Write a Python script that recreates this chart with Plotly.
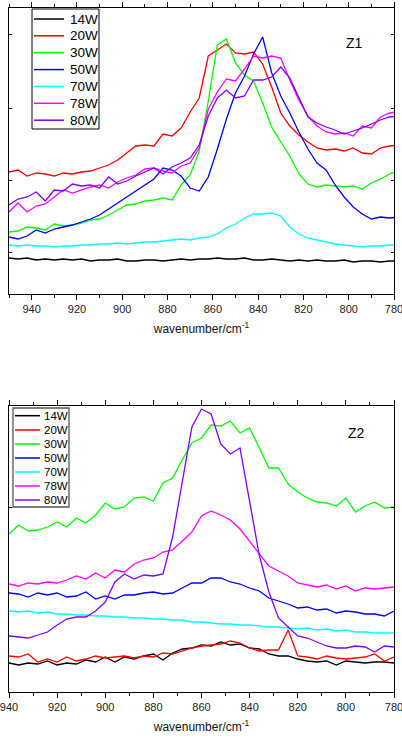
import plotly.graph_objects as go

# ---------------- data ----------------
LABELS = ["14W", "20W", "30W", "50W", "70W", "78W", "80W"]
COLORS = ["#000000", "#ff0000", "#00ff00", "#0000ff", "#00ffff", "#ff00ff", "#8000ff"]

# Z1 panel: wavenumber 950 -> 778 step 4
WN_Z1 = list(range(950, 777, -4))
Z1_14W = [36, 35, 36, 34, 35, 34, 35, 34, 35, 33, 34, 34, 35, 33, 33, 34, 34, 33, 34, 35, 34, 35,
          35, 36, 35, 35, 36, 34, 34, 35, 34, 33, 34, 33, 34, 33, 33, 34, 32, 33, 33, 32, 33, 33]
Z1_20W = [122, 124, 118, 121, 120, 118, 121, 120, 122, 123, 126, 129, 134, 141, 148, 149, 148, 160,
          158, 166, 182, 196, 238, 244, 250, 241, 240, 242, 230, 207, 181, 168, 159, 152, 146, 144,
          145, 143, 146, 141, 140, 146, 148, 149]
Z1_30W = [62, 63, 67, 66, 64, 70, 68, 69, 71, 74, 75, 79, 84, 89, 90, 93, 94, 96, 94, 109, 119, 143,
          193, 249, 255, 231, 219, 213, 191, 167, 152, 138, 120, 110, 107, 109, 108, 107, 108, 105,
          111, 115, 120, 123]
Z1_50W = [57, 55, 58, 64, 61, 65, 67, 69, 72, 75, 79, 85, 91, 97, 103, 109, 115, 126, 124, 118, 106,
          103, 117, 145, 175, 201, 218, 240, 257, 221, 198, 181, 162, 145, 131, 124, 109, 97, 87, 80,
          75, 77, 76, 77]
Z1_70W = [49, 48, 49, 48, 48, 47, 48, 48, 49, 49, 50, 50, 51, 50, 51, 52, 52, 53, 54, 55, 54, 56, 57,
          60, 66, 70, 76, 80, 80, 81, 78, 67, 60, 56, 54, 52, 50, 49, 48, 47, 48, 48, 49, 49]
Z1_78W = [82, 91, 82, 88, 90, 97, 104, 101, 104, 107, 109, 106, 112, 116, 119, 125, 126, 123, 121,
          128, 131, 146, 185, 202, 215, 213, 225, 238, 236, 238, 236, 214, 194, 178, 168, 162, 160,
          161, 158, 168, 166, 177, 181, 182]
Z1_80W = [89, 95, 97, 102, 93, 104, 103, 110, 108, 109, 106, 117, 110, 113, 118, 122, 126, 120, 127,
          131, 136, 149, 178, 196, 204, 196, 198, 214, 214, 217, 227, 216, 196, 177, 171, 167, 164,
          160, 163, 166, 170, 174, 177, 178]

# Z2 panel: wavenumber 940 -> 780 step 4
WN_Z2 = list(range(940, 779, -4))
Z2_14W = [29, 27, 29, 28, 31, 27, 29, 28, 32, 30, 35, 30, 35, 33, 36, 38, 32, 39, 43, 44, 47, 46, 50,
          47, 48, 44, 43, 38, 36, 36, 33, 31, 30, 31, 27, 31, 30, 29, 30, 30, 29]
Z2_20W = [36, 35, 38, 30, 33, 30, 35, 31, 33, 36, 34, 35, 36, 34, 36, 35, 39, 38, 41, 44, 46, 47, 48,
          51, 49, 44, 41, 42, 42, 62, 36, 35, 33, 36, 34, 33, 34, 35, 38, 31, 35]
Z2_30W = [158, 167, 161, 162, 165, 170, 165, 174, 169, 177, 189, 183, 185, 194, 195, 191, 209, 214,
          232, 249, 254, 267, 266, 271, 259, 264, 244, 224, 224, 208, 200, 194, 190, 189, 186, 194,
          180, 186, 190, 184, 185]
Z2_50W = [99, 98, 95, 99, 97, 99, 95, 96, 100, 93, 96, 93, 97, 97, 99, 100, 98, 99, 104, 109, 109, 114,
          114, 110, 108, 104, 101, 94, 91, 88, 84, 85, 82, 83, 79, 81, 80, 78, 78, 76, 81]
Z2_70W = [81, 80, 81, 79, 80, 78, 78, 77, 77, 76, 76, 75, 75, 74, 74, 73, 73, 72, 72, 70, 70, 69, 68,
          68, 67, 67, 66, 65, 65, 64, 63, 64, 62, 63, 61, 62, 60, 60, 59, 59, 59]
Z2_78W = [108, 106, 109, 108, 110, 109, 112, 116, 113, 119, 114, 122, 120, 128, 132, 134, 140, 142,
          151, 160, 176, 181, 177, 172, 163, 151, 138, 126, 121, 116, 109, 107, 105, 107, 103, 106,
          101, 104, 103, 104, 105]
Z2_80W = [56, 55, 54, 57, 60, 67, 73, 75, 75, 81, 90, 110, 118, 113, 117, 116, 118, 155, 210, 265, 283,
          278, 248, 238, 244, 192, 137, 100, 74, 65, 56, 54, 50, 46, 44, 44, 46, 45, 40, 46, 45]

Z1 = [Z1_14W, Z1_20W, Z1_30W, Z1_50W, Z1_70W, Z1_78W, Z1_80W]
Z2 = [Z2_14W, Z2_20W, Z2_30W, Z2_50W, Z2_70W, Z2_78W, Z2_80W]

# ---------------- figure ----------------
FONT = "Arial, Liberation Sans, Helvetica, sans-serif"
W, H = 402, 740
ML, MR, MT, MB = 9, 8, 8, 48
PW, PH = W - ML - MR, H - MT - MB


def px2x(px):
    return (px - ML) / PW


def py2y(py):
    return (H - MB - py) / PH


fig = go.Figure()
for lab, col, ys in zip(LABELS, COLORS, Z1):
    fig.add_trace(go.Scatter(x=WN_Z1, y=ys, mode="lines", name=lab,
                             line=dict(color=col, width=1.3), xaxis="x", yaxis="y"))
for lab, col, ys in zip(LABELS, COLORS, Z2):
    fig.add_trace(go.Scatter(x=WN_Z2, y=ys, mode="lines", name=lab,
                             line=dict(color=col, width=1.3), xaxis="x2", yaxis="y2"))

top_dom = [py2y(294), py2y(8)]
bot_dom = [py2y(692), py2y(406)]

xcommon = dict(showline=True, linecolor="black", linewidth=1, mirror="allticks",
               ticks="outside", ticklen=5, tickcolor="black", tickwidth=1,
               dtick=20, showgrid=False, zeroline=False, automargin=False,
               ticklabeloverflow="allow",
               minor=dict(dtick=10, ticks="outside", ticklen=3, tickcolor="black", showgrid=False),
               tickfont=dict(family=FONT, size=11, color="#222"),
               title=dict(text="wavenumber/cm<sup>-1</sup>",
                          font=dict(family=FONT, size=12, color="#111"), standoff=10))
ycommon = dict(showline=True, linecolor="black", linewidth=1, mirror="allticks",
               ticks="inside", ticklen=3, tickcolor="black", showticklabels=False,
               showgrid=False, zeroline=False, automargin=False)

# manual legends (box, line samples, labels)
shapes = []
annotations = []


def add_legend(box, rows, line_x, text_x, fsize, bcolor, bwidth):
    x0, x1, y0, y1 = box
    shapes.append(dict(type="rect", xref="paper", yref="paper",
                       x0=px2x(x0), x1=px2x(x1), y0=py2y(y1), y1=py2y(y0),
                       line=dict(color=bcolor, width=bwidth), fillcolor="white", layer="above"))
    for lab, col, ry in zip(LABELS, COLORS, rows):
        shapes.append(dict(type="line", xref="paper", yref="paper",
                           x0=px2x(line_x[0]), x1=px2x(line_x[1]), y0=py2y(ry), y1=py2y(ry),
                           line=dict(color=col, width=1.5), layer="above"))
        annotations.append(dict(text=lab, x=px2x(text_x), y=py2y(ry), xref="paper", yref="paper",
                                xanchor="left", yanchor="middle", showarrow=False,
                                font=dict(family=FONT, size=fsize, color="black")))


add_legend((32, 99, 9, 129), [19, 35.8, 52.7, 69.6, 86.5, 103.3, 120.2], (34, 64), 67.5, 13.5,
           "black", 1)
add_legend((13, 69, 408, 507), [415.7, 430, 444, 458, 472, 486, 500], (15, 40), 41.5, 11.5,
           "#555", 1.3)

annotations.append(dict(text="Z1", x=px2x(365), y=py2y(33), xref="paper", yref="paper",
                        showarrow=False, font=dict(family=FONT, size=14, color="black")))
annotations.append(dict(text="Z2", x=px2x(367), y=py2y(433), xref="paper", yref="paper",
                        showarrow=False, font=dict(family=FONT, size=14, color="black")))

fig.update_layout(
    width=W, height=H,
    margin=dict(l=ML, r=MR, t=MT, b=MB),
    paper_bgcolor="white", plot_bgcolor="white",
    font=dict(family=FONT, color="black"),
    showlegend=False,
    hovermode=False,
    xaxis=dict(**xcommon, range=[950, 780], domain=[0, 1], anchor="y"),
    yaxis=dict(**ycommon, range=[0, 286], domain=top_dom, anchor="x",
               tickvals=[42, 114, 186, 260]),
    xaxis2=dict(**xcommon, range=[940, 780], domain=[0, 1], anchor="y2"),
    yaxis2=dict(**ycommon, range=[0, 286], domain=bot_dom, anchor="x2",
                tickvals=[185]),
    shapes=shapes,
    annotations=annotations,
)

fig.write_html("out.html", config={"displayModeBar": False},
               post_script="document.body.style.margin='0';document.body.style.overflow='hidden';")
